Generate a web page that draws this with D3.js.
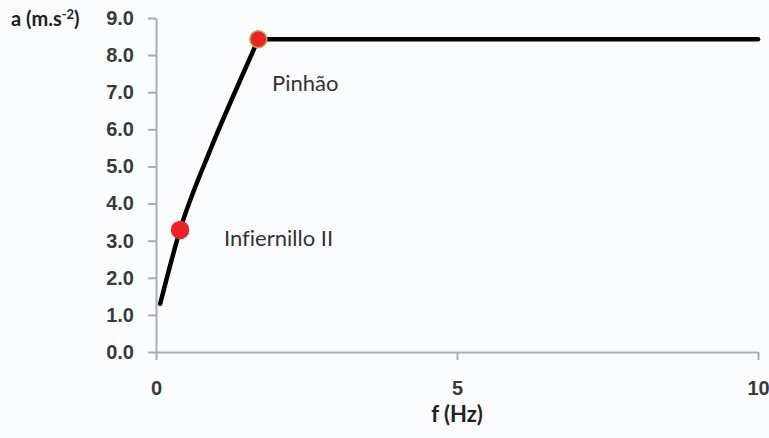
<!DOCTYPE html>
<html><head><meta charset="utf-8">
<script src="https://cdn.jsdelivr.net/npm/d3@7"></script>
<style>
html,body{margin:0;padding:0;background:#fbfcfe;}
svg{display:block;font-family:Lato,"Open Sans",sans-serif;font-variant-ligatures:none;font-feature-settings:"liga" 0;}
</style></head>
<body>
<svg id="chart" width="769" height="438"></svg>
<script>
// data
const riseF = [0.07, 0.4, 0.90, 1.40, 1.70];
const riseA = [1.3, 3.29, 5.44, 7.33, 8.43];
const plateauF = [1.70, 10];
const plateauA = [8.43, 8.43];
const siteNames = ["Infiernillo II", "Pinhão"];
const siteF = [0.4, 1.70];
const siteA = [3.29, 8.43];
const yTicks = [0,1,2,3,4,5,6,7,8,9];
const xTicks = [0,5,10];

const svg = d3.select("#chart");
const x = d3.scaleLinear().domain([0,10]).range([156,758]);
const y = d3.scaleLinear().domain([0,9]).range([352,18]);
const axisColor = "#a9adb3";

// y axis
const ya = svg.append("g").attr("transform","translate(156,0)")
  .call(d3.axisLeft(y).tickValues(yTicks).tickFormat(d3.format(".1f")).tickSize(8).tickSizeOuter(0));
ya.select(".domain").attr("stroke",axisColor).attr("stroke-width",2);
ya.selectAll(".tick line").attr("stroke",axisColor).attr("stroke-width",2);
ya.selectAll(".tick text").attr("fill","#3a3a3a").attr("font-size",20).attr("font-weight",700).attr("x",-22);

// x axis
const xa = svg.append("g").attr("transform","translate(0,352)")
  .call(d3.axisBottom(x).tickValues(xTicks).tickFormat(d3.format("d")).tickSize(8).tickSizeOuter(0));
xa.select(".domain").attr("stroke",axisColor).attr("stroke-width",2);
xa.selectAll(".tick line").attr("stroke",axisColor).attr("stroke-width",2);
xa.selectAll(".tick text").attr("fill","#3a3a3a").attr("font-size",20).attr("font-weight",700).attr("dy",0).attr("y",43);

// axis titles
svg.append("text").attr("x",11).attr("y",26).attr("font-size",20).attr("font-weight",700).attr("fill","#222")
  .html('a (m.s<tspan dy="-7" font-size="13">-2</tspan><tspan dy="7">)</tspan>');
svg.append("text").attr("x",x(5)).attr("y",422).attr("text-anchor","middle").attr("font-size",22).attr("font-weight",700).attr("fill","#222").text("f (Hz)");

// curve
svg.append("path").datum(riseF.map((f,i)=>[f,riseA[i]]))
  .attr("d", d3.line().x(d=>x(d[0])).y(d=>y(d[1])).curve(d3.curveMonotoneX))
  .attr("fill","none").attr("stroke","#000").attr("stroke-width",4.5).attr("stroke-linecap","round");
svg.append("path").datum(plateauF.map((f,i)=>[f,plateauA[i]]))
  .attr("d", d3.line().x(d=>x(d[0])).y(d=>y(d[1])))
  .attr("fill","none").attr("stroke","#000").attr("stroke-width",4.5).attr("stroke-linecap","round");

// site markers
const strokes = ["#e8262a","#b9b04a"];
siteF.forEach((f,i)=>{
  svg.append("circle").attr("cx",x(f)).attr("cy",y(siteA[i])).attr("r",8.5)
    .attr("fill","#ec2227").attr("stroke",strokes[i]).attr("stroke-width",1.5);
});
// labels
svg.append("text").attr("x",224).attr("y",246).attr("font-size",22).attr("fill","#333").text(siteNames[0]);
svg.append("text").attr("x",272).attr("y",91).attr("font-size",22).attr("fill","#333").text(siteNames[1]);
</script>
</body></html>
